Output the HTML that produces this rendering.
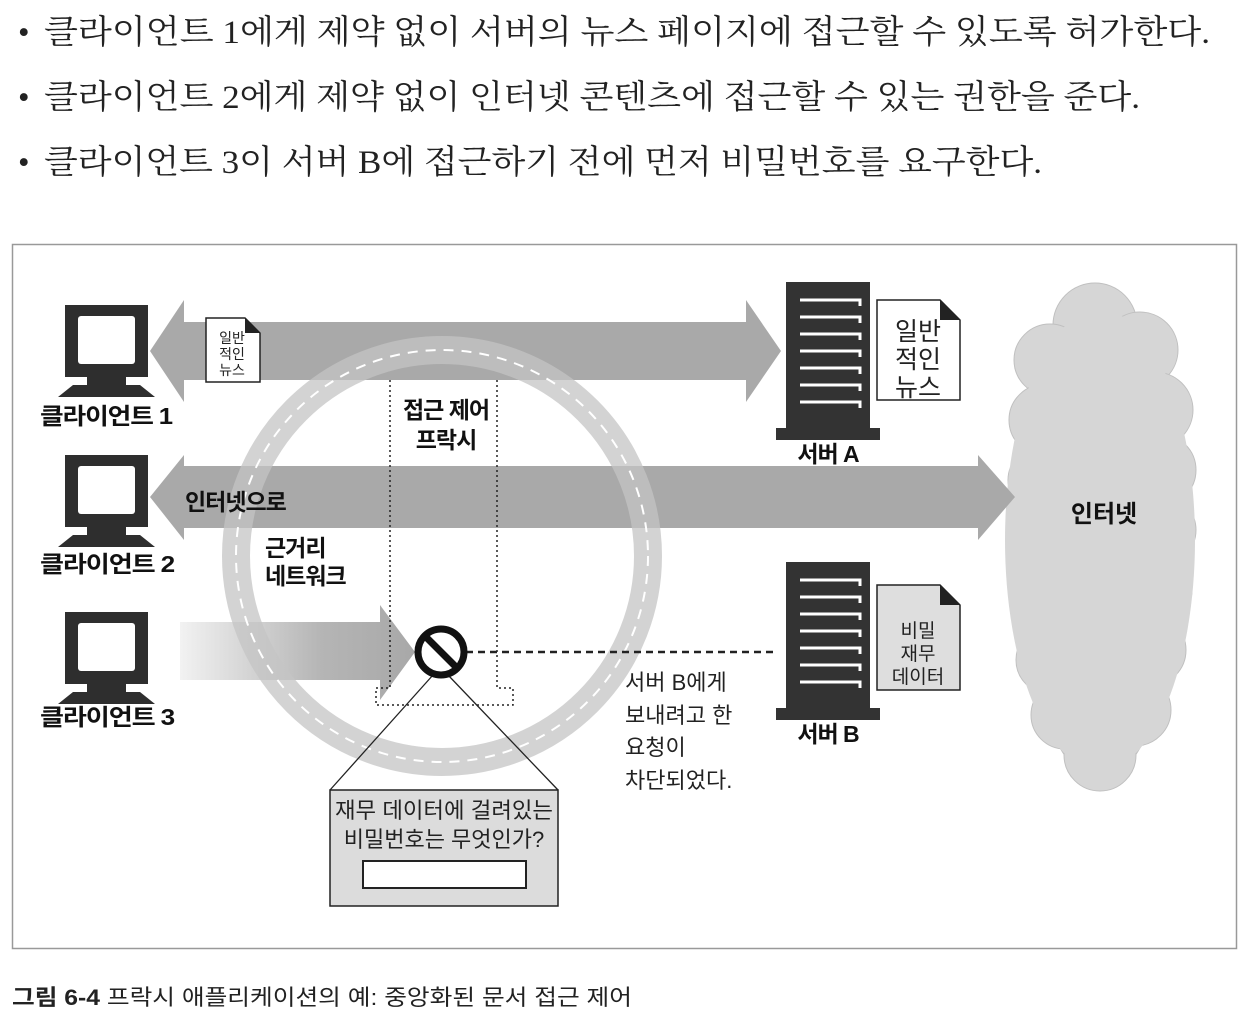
<!DOCTYPE html>
<html><head><meta charset="utf-8"><style>
html,body{margin:0;padding:0;background:#fff;}
svg{display:block}
.s{font-family:"Liberation Serif","Noto Serif CJK KR",serif;}
.g{font-family:"Liberation Sans","Noto Sans CJK KR",sans-serif;}
</style></head><body>
<svg width="1260" height="1022" viewBox="0 0 1260 1022" xmlns="http://www.w3.org/2000/svg">
<defs>
<linearGradient id="a3" x1="0" x2="1" y1="0" y2="0"><stop offset="0" stop-color="#f2f2f2"/><stop offset="0.6" stop-color="#b5b5b5"/><stop offset="1" stop-color="#a8a8a8"/></linearGradient>
<g id="mon">
<rect x="0" y="0" width="83" height="72" fill="#2e2e2e"/>
<rect x="13" y="11" width="57" height="48" rx="3" fill="#fff"/>
<rect x="22" y="72" width="39" height="8" fill="#2e2e2e"/>
<polygon points="8,80 75,80 90,92 -7,92" fill="#2e2e2e"/>
</g>
<g id="srv">
<rect x="0" y="0" width="84" height="146" fill="#333"/>
<g stroke="#fff" stroke-width="3" fill="none">
<path d="M14 18H74V24"/><path d="M14 35H74V41"/><path d="M14 52H74V58"/><path d="M14 69H74V75"/><path d="M14 86H74V92"/><path d="M14 103H74V109"/><path d="M14 120H74V126"/>
</g>
<rect x="-10" y="146" width="104" height="12" fill="#333"/>
</g>
</defs>
<g class="s" font-size="33" fill="#222">
<text x="18" y="43">•</text><text x="44" y="43" textLength="1166" lengthAdjust="spacingAndGlyphs">클라이언트 1에게 제약 없이 서버의 뉴스 페이지에 접근할 수 있도록 허가한다.</text>
<text x="18" y="108">•</text><text x="44" y="108" textLength="1096" lengthAdjust="spacingAndGlyphs">클라이언트 2에게 제약 없이 인터넷 콘텐츠에 접근할 수 있는 권한을 준다.</text>
<text x="18" y="173">•</text><text x="44" y="173" textLength="998" lengthAdjust="spacingAndGlyphs">클라이언트 3이 서버 B에 접근하기 전에 먼저 비밀번호를 요구한다.</text>
</g>
<rect x="12.5" y="244.5" width="1224" height="704" fill="#fff" stroke="#999" stroke-width="1.5"/>
<!-- cloud -->
<g fill="#d6d6d6" stroke="#c0c0c0" stroke-width="1">
<ellipse cx="1100" cy="540" rx="80" ry="240"/>
<circle cx="1095" cy="325" r="42"/><circle cx="1140" cy="350" r="38"/><circle cx="1050" cy="360" r="36"/>
<circle cx="1155" cy="410" r="38"/><circle cx="1045" cy="420" r="36"/><circle cx="1160" cy="470" r="36"/>
<circle cx="1040" cy="480" r="32"/><circle cx="1162" cy="530" r="34"/><circle cx="1045" cy="540" r="32"/>
<circle cx="1158" cy="590" r="34"/><circle cx="1048" cy="600" r="34"/><circle cx="1150" cy="650" r="36"/>
<circle cx="1050" cy="660" r="34"/><circle cx="1135" cy="710" r="36"/><circle cx="1065" cy="715" r="34"/><circle cx="1100" cy="755" r="36"/>
</g>
<ellipse cx="1100" cy="540" rx="95" ry="230" fill="#d6d6d6"/>
<text class="g" x="1104" y="522" font-size="24" font-weight="bold" text-anchor="middle" fill="#111">인터넷</text>
<!-- arrows -->
<polygon points="150,351 184,300 184,322 746,322 746,300 781,351 746,402 746,380 184,380 184,402" fill="#a9a9a9"/>
<polygon points="150,497 184,455 184,466 978,466 978,455 1015,497 978,540 978,528 184,528 184,540" fill="#a9a9a9"/>
<polygon points="180,622 380,622 380,605 415,652 380,700 380,680 180,680" fill="url(#a3)"/>
<!-- ring -->
<circle cx="442" cy="556" r="206" fill="none" stroke="#c4c4c4" stroke-width="28" opacity="0.75"/>
<circle cx="442" cy="556" r="206" fill="none" stroke="#fff" stroke-width="2" stroke-dasharray="10 8"/>
<!-- clients -->
<use href="#mon" x="65" y="305"/><use href="#mon" x="65" y="455"/><use href="#mon" x="65" y="612"/>
<g class="g" font-size="23" font-weight="bold" fill="#111" letter-spacing="-1">
<text x="40" y="424" textLength="132" lengthAdjust="spacingAndGlyphs">클라이언트 1</text><text x="40" y="572" textLength="134" lengthAdjust="spacingAndGlyphs">클라이언트 2</text><text x="40" y="725" textLength="134" lengthAdjust="spacingAndGlyphs">클라이언트 3</text>
<text x="185" y="510">인터넷으로</text>
<text x="265" y="556">근거리</text><text x="265" y="584">네트워크</text>
<text x="446" y="418" text-anchor="middle">접근 제어</text><text x="446" y="448" text-anchor="middle">프락시</text>
<text x="828" y="462" text-anchor="middle">서버 A</text><text x="828" y="742" text-anchor="middle">서버 B</text>
</g>
<!-- small doc -->
<polygon points="206,318 245,318 260,333 260,382 206,382" fill="#fff" stroke="#222" stroke-width="1.5"/>
<polygon points="245,318 260,333 245,333" fill="#222"/>
<g class="g" font-size="14" text-anchor="middle" fill="#222"><text x="232" y="343">일반</text><text x="232" y="359">적인</text><text x="232" y="375">뉴스</text></g>
<!-- proxy box -->
<path d="M390 380V688H376V705H513V688H497V380" fill="none" stroke="#222" stroke-width="1.5" stroke-dasharray="2 3"/>
<!-- servers -->
<use href="#srv" x="786" y="282"/><use href="#srv" x="786" y="562"/>
<polygon points="877,300 940,300 960,320 960,400 877,400" fill="#fff" stroke="#222" stroke-width="1.5"/>
<polygon points="940,300 960,320 940,320" fill="#222"/>
<g class="g" font-size="25" text-anchor="middle" fill="#222"><text x="918" y="340">일반</text><text x="918" y="368">적인</text><text x="918" y="396">뉴스</text></g>
<polygon points="877,585 940,585 960,605 960,690 877,690" fill="#dedede" stroke="#222" stroke-width="1.5"/>
<polygon points="940,585 960,605 940,605" fill="#222"/>
<g class="g" font-size="19" text-anchor="middle" fill="#222"><text x="918" y="637">비밀</text><text x="918" y="660">재무</text><text x="918" y="683">데이터</text></g>
<!-- stop -->
<line x1="466" y1="652" x2="778" y2="652" stroke="#222" stroke-width="2.5" stroke-dasharray="7 5"/>
<line x1="433" y1="675" x2="330" y2="790" stroke="#222" stroke-width="1.3"/>
<line x1="448" y1="675" x2="558" y2="790" stroke="#222" stroke-width="1.3"/>
<circle cx="441" cy="652" r="23" fill="none" stroke="#111" stroke-width="7"/>
<line x1="425" y1="636" x2="457" y2="668" stroke="#111" stroke-width="7"/>
<rect x="330" y="790" width="228" height="116" fill="#dcdcdc" stroke="#222" stroke-width="1.5"/>
<g class="g" font-size="22" text-anchor="middle" fill="#222"><text x="444" y="818" textLength="218" lengthAdjust="spacingAndGlyphs">재무 데이터에 걸려있는</text><text x="444" y="847">비밀번호는 무엇인가?</text></g>
<rect x="363" y="861" width="163" height="27" fill="#fff" stroke="#222" stroke-width="2"/>
<g class="g" font-size="22" fill="#222"><text x="625" y="690">서버 B에게</text><text x="625" y="723">보내려고 한</text><text x="625" y="755">요청이</text><text x="625" y="788">차단되었다.</text></g>
<!-- caption -->
<text class="g" x="12" y="1005" font-size="22" fill="#222" textLength="620" lengthAdjust="spacingAndGlyphs"><tspan font-weight="bold">그림 6-4</tspan> 프락시 애플리케이션의 예: 중앙화된 문서 접근 제어</text>
</svg>
</body></html>
